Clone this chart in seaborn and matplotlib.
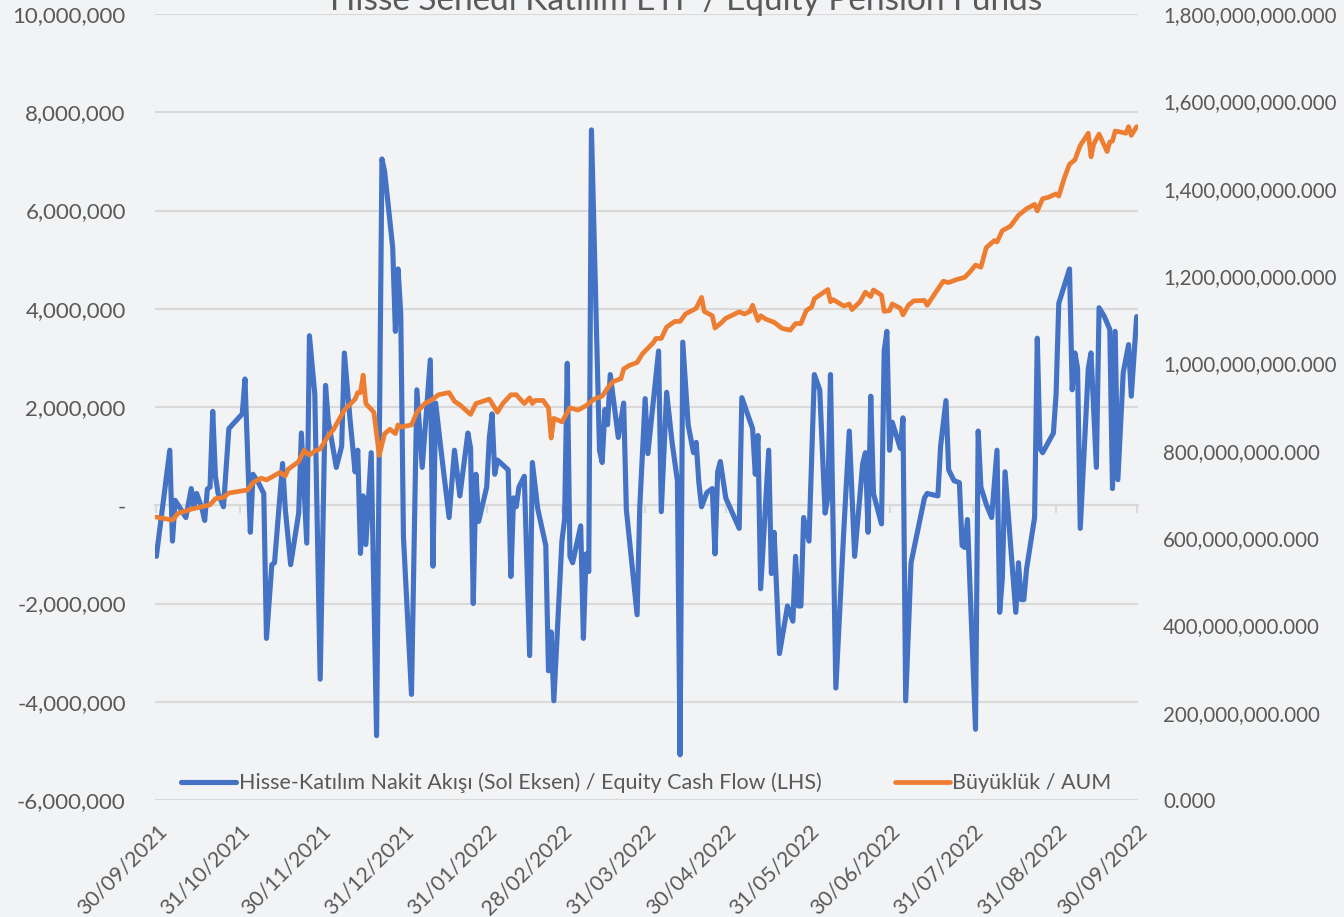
import pandas as pd
import numpy as np
import matplotlib
matplotlib.use('Agg')
import matplotlib.pyplot as plt
import matplotlib.dates as mdates
from matplotlib.ticker import FuncFormatter
import seaborn as sns

# Data: day offsets from 30/09/2021 and values
start = pd.Timestamp('2021-09-30')

cash_days = [0, 5, 6, 7, 9, 11, 13, 14, 15, 17, 18, 19, 20, 21, 22, 23, 25, 27, 32, 33,
             35, 36, 38, 40, 41, 43, 44, 47, 48, 50, 53, 54, 55, 56, 57, 59, 61, 63, 64, 67,
             69, 70, 72, 74, 75, 76, 77, 78, 80, 82, 84, 85, 88, 89, 90, 91, 92, 95, 97, 99,
             102, 103, 104, 106, 109, 111, 113, 116, 117, 118, 119, 120, 123, 124, 125, 126, 127, 131, 132, 133,
             134, 135, 137, 139, 140, 142, 145, 146, 147, 148, 151, 152, 153, 154, 155, 158, 159, 160, 161, 162,
             165, 166, 167, 168, 169, 172, 174, 175, 179, 180, 182, 183, 187, 188, 190, 192, 194, 195, 196, 198,
             200, 201, 202, 203, 205, 207, 208, 209, 210, 212, 217, 218, 222, 223, 224, 225, 228, 229, 230, 232,
             235, 237, 238, 239, 240, 241, 243, 245, 247, 249, 250, 251, 253, 256, 258, 260, 263, 264, 265, 266,
             267, 270, 271, 272, 273, 274, 277, 278, 279, 281, 286, 287, 291, 292, 294, 295, 297, 299, 300, 301,
             302, 305, 306, 307, 309, 311, 313, 314, 315, 316, 318, 320, 321, 322, 323, 324, 327, 328, 329, 330,
             334, 335, 336, 340, 341, 342, 343, 344, 347, 348, 350, 351, 353, 355, 356, 357, 358, 360, 362, 363,
             365]
# equity cash flow, millions
cash_flow_m = [-1.04, 1.12, -0.73, 0.10, -0.07, -0.25, 0.34, -0.03, 0.24, -0.07, -0.31, 0.33, 0.37, 1.91, 0.59, 0.24, -0.03, 1.56, 1.86, 2.57,
               -0.55, 0.63, 0.46, 0.24, -2.71, -1.21, -1.17, 0.85, -0.07, -1.21, -0.16, 1.47, 0.33, -0.77, 3.45, 2.26, -3.54, 2.44, 1.73, 0.77,
               1.20, 3.10, 1.82, 0.68, 1.12, -0.98, 0.19, -0.80, 1.07, -4.69, 7.05, 6.79, 5.25, 3.54, 4.81, 3.89, -0.64, -3.85, 2.35, 0.77,
               2.96, -1.24, 2.08, 1.12, -0.25, 1.12, 0.19, 1.47, 1.16, -2.00, 0.63, -0.33, 0.37, 1.38, 1.86, 0.63, 0.92, 0.72, -1.45, 0.15,
               -0.03, 0.37, 0.59, -3.06, 0.87, -0.07, -0.82, -3.37, -2.58, -3.98, -0.73, -0.29, 2.89, -1.04, -1.17, -0.42, -2.71, -0.99, -1.35, 7.64,
               1.12, 0.87, 1.95, 1.64, 2.66, 1.38, 2.08, -0.09, -2.23, -0.03, 2.17, 1.05, 3.14, -0.13, 2.30, 1.29, 0.50, -5.08, 3.32, 1.64,
               1.07, 1.28, 0.46, -0.03, 0.26, 0.34, -0.99, 0.68, 0.89, 0.15, -0.47, 2.19, 1.56, 0.63, 1.42, -1.70, 1.12, -1.39, -0.55, -3.02,
               -2.05, -2.36, -1.04, -2.05, -2.05, -0.25, -0.73, 2.66, 2.35, -0.16, 0.15, 2.66, -3.72, -0.47, 1.51, -1.04, 0.85, 1.07, -0.55, 2.22,
               0.24, -0.38, 3.14, 3.54, 1.12, 1.69, 1.16, 1.78, -3.98, -1.17, 0.15, 0.24, 0.19, 1.20, 2.13, 0.72, 0.50, 0.46, -0.82, -0.86,
               -0.29, -4.56, 1.51, 0.37, 0.02, -0.25, 1.12, -2.18, -1.48, 0.68, -0.77, -2.18, -1.17, -1.92, -1.92, -1.30, -0.25, 3.40, 1.16, 1.07,
               1.47, 2.26, 4.11, 4.81, 2.35, 3.10, 2.79, -0.47, 2.79, 3.10, 0.77, 4.02, 3.84, 3.58, 0.34, 3.54, 0.52, 2.70, 3.27, 2.22,
               3.84]

aum_days = [0, 6, 8, 13, 20, 22, 25, 27, 34, 36, 39, 41, 46, 48, 49, 53, 55, 57, 59, 61,
            64, 66, 70, 74, 75, 76, 77, 78, 81, 83, 85, 87, 89, 90, 91, 95, 97, 100, 103, 105,
            109, 111, 113, 117, 119, 124, 127, 129, 132, 134, 137, 139, 140, 141, 144, 146, 147, 148, 151, 154,
            157, 160, 163, 166, 168, 170, 173, 174, 176, 179, 181, 185, 186, 188, 190, 193, 195, 197, 201, 203,
            204, 207, 208, 210, 212, 217, 219, 221, 222, 224, 225, 227, 230, 233, 236, 238, 240, 242, 244, 245,
            250, 251, 252, 256, 258, 259, 262, 264, 266, 267, 270, 271, 273, 274, 277, 278, 280, 282, 286, 287,
            290, 293, 295, 298, 301, 303, 305, 307, 309, 312, 313, 315, 318, 321, 324, 327, 328, 330, 332, 335,
            336, 338, 340, 342, 344, 347, 348, 349, 351, 354, 355, 356, 357, 361, 362, 363, 365]
# AUM, millions
aum_m = [648, 641, 656, 666, 676, 690, 693, 703, 710, 727, 737, 733, 750, 742, 757, 775, 801, 790, 799, 804,
         834, 849, 893, 918, 933, 933, 973, 908, 888, 789, 839, 849, 839, 859, 854, 859, 888, 908, 918, 928,
         933, 913, 905, 883, 908, 918, 888, 908, 928, 928, 908, 921, 908, 915, 915, 898, 829, 874, 866, 898,
         893, 903, 918, 925, 943, 958, 965, 987, 995, 1002, 1022, 1047, 1057, 1057, 1083, 1096, 1096, 1113, 1126, 1151,
         1119, 1109, 1081, 1091, 1103, 1118, 1113, 1119, 1133, 1098, 1109, 1101, 1094, 1080, 1076, 1091, 1091, 1121, 1129, 1148,
         1169, 1141, 1146, 1131, 1136, 1123, 1141, 1163, 1153, 1168, 1156, 1119, 1121, 1136, 1126, 1111, 1133, 1143, 1144, 1133,
         1161, 1188, 1185, 1192, 1197, 1210, 1225, 1220, 1265, 1281, 1278, 1304, 1314, 1339, 1354, 1364, 1349, 1377, 1380, 1388,
         1383, 1423, 1456, 1466, 1499, 1527, 1473, 1502, 1525, 1485, 1507, 1509, 1532, 1527, 1542, 1522, 1542]

month_ticks = ['2021-09-30', '2021-10-31', '2021-11-30', '2021-12-31', '2022-01-31', '2022-02-28',
               '2022-03-31', '2022-04-30', '2022-05-31', '2022-06-30', '2022-07-31', '2022-08-31', '2022-09-30']

cash_df = pd.DataFrame({'date': start + pd.to_timedelta(cash_days, unit='D'),
                        'value': np.array(cash_flow_m) * 1e6})
aum_df = pd.DataFrame({'date': start + pd.to_timedelta(aum_days, unit='D'),
                       'value': np.array(aum_m) * 1e6})

sns.set_theme(style='white')
plt.rcParams['font.family'] = ['Lato', 'DejaVu Sans']

text_gray = '#595959'
grid_gray = '#d9d9d9'
blue = '#4472C4'
orange = '#ED7D31'

fig = plt.figure(figsize=(13.44, 9.17), dpi=100, facecolor='#f2f3f5')
ax = fig.add_axes([155 / 1344, 117 / 917, 983 / 1344, 786 / 917])
ax.set_facecolor('none')
ax2 = ax.twinx()

sns.lineplot(data=cash_df, x='date', y='value', ax=ax, color=blue, linewidth=3.7,
             estimator=None, label='Hisse-Katılım Nakit Akışı (Sol Eksen) / Equity Cash Flow (LHS)',
             legend=False)
sns.lineplot(data=aum_df, x='date', y='value', ax=ax2, color=orange, linewidth=3.4,
             estimator=None, label='Büyüklük / AUM', legend=False)

tick_dates = pd.to_datetime(month_ticks)
ax.set_xlim(start - pd.Timedelta(days=0.5), tick_dates[-1] + pd.Timedelta(days=0.5))

# left axis
ax.set_ylim(-6e6, 10e6)
ax.set_yticks(np.arange(-6e6, 10.1e6, 2e6))
ax.yaxis.set_major_formatter(FuncFormatter(lambda v, p: '-' if abs(v) < 1 else f'{v:,.0f}'))
ax.grid(axis='y', color=grid_gray, linewidth=1.5)
ax.grid(axis='x', visible=False)
ax.tick_params(axis='y', length=0, pad=21, labelsize=16, labelcolor=text_gray)

# right axis
ax2.set_ylim(0, 1.8e9)
ax2.set_yticks(np.arange(0, 1.81e9, 2e8))
ax2.yaxis.set_major_formatter(FuncFormatter(lambda v, p: f'{v:,.3f}'))
ax2.tick_params(axis='y', length=0, pad=18, labelsize=14.8, labelcolor=text_gray)
ax2.grid(False)

for a in (ax, ax2):
    for s in a.spines.values():
        s.set_visible(False)
    a.set_xlabel('')
    a.set_ylabel('')

# dates along the bottom
ax.set_xticks(tick_dates)
ax.xaxis.set_major_formatter(mdates.DateFormatter('%d/%m/%Y'))
ax.tick_params(axis='x', length=0, pad=15, labelsize=15.3, labelcolor=text_gray)
plt.setp(ax.get_xticklabels(), rotation=45, ha='right', rotation_mode='anchor')

# category axis line crossing at zero with small tick marks
zero_axis = ax.secondary_xaxis(6 / 16)
zero_axis.set_xticks(tick_dates)
zero_axis.set_xticklabels([])
zero_axis.tick_params(axis='x', length=6, width=1.5, color=grid_gray, direction='out')
zero_axis.spines['bottom'].set_color(grid_gray)
zero_axis.spines['bottom'].set_linewidth(1.5)

# legend across the bottom of the plot
h1, l1 = ax.get_legend_handles_labels()
h2, l2 = ax2.get_legend_handles_labels()
leg = ax2.legend(h1 + h2, l1 + l2, loc='center', bbox_to_anchor=(0.5, 17 / 786), ncol=2,
                 frameon=False, fontsize=15.5, handlelength=2.55, handletextpad=0.12,
                 columnspacing=3.4, labelcolor=text_gray)

fig.text(686 / 1344, 1 - 10 / 917, 'Hisse Senedi Katılım ETF / Equity Pension Funds',
         ha='center', va='baseline', fontsize=24, color=text_gray)

fig.savefig('out.png', dpi=100, facecolor=fig.get_facecolor())
